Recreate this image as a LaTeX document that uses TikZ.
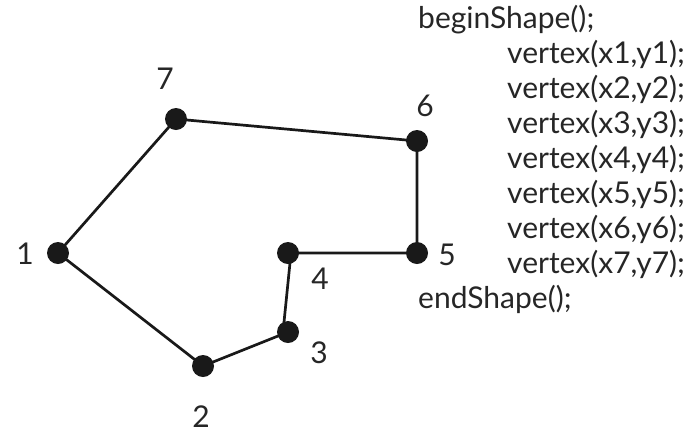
\documentclass[tikz,border=0pt]{standalone}
\usepackage{fontspec}
\setmainfont{Lato}
\usetikzlibrary{calc}
\begin{document}
\begin{tikzpicture}[x=1pt,y=-1pt,
  dot/.style={circle,fill=black!90,inner sep=0pt,minimum size=22pt},
  edge/.style={line width=2.7pt,draw=black!90},
  num/.style={anchor=base,inner sep=0pt,font=\fontsize{30}{35}\selectfont,text=black!85},
  code/.style={anchor=base west,inner sep=0pt,font=\fontsize{30}{35}\selectfont,text=black!85}]
\useasboundingbox (0,0) rectangle (698,432);
\node[dot] (v1) at (58,253) {};
\node[dot] (v2) at (203,366) {};
\node[dot] (v3) at (288,332) {};
\node[dot] (v4) at (288,253) {};
\node[dot] (v5) at (417,253) {};
\node[dot] (v6) at (417,141) {};
\node[dot] (v7) at (176,119) {};
\draw[edge] (v1.center) -- (v2.center) -- (v3.center);
\draw[edge] ($(v3.center)+(-5,0)$) -- ($(v4.center)+(3,0)$);
\draw[edge] (v4.center) -- (v5.center) -- (v6.center) -- (v7.center) -- (v1.center);
\node[num] (l1) at (25,264) {1};
\node[num] (l2) at (201,427) {2};
\node[num] (l3) at (319,363) {3};
\node[num] (l4) at (320,289) {4};
\node[num] (l5) at (447,265) {5};
\node[num] (l6) at (425,116) {6};
\node[num] (l7) at (165,89) {7};
\node[code] (c0) at (418,28) {beginShape();};
\node[code] (c1) at (507,63) {vertex(x1,y1);};
\node[code] (c2) at (507,98) {vertex(x2,y2);};
\node[code] (c3) at (507,133) {vertex(x3,y3);};
\node[code] (c4) at (507,168) {vertex(x4,y4);};
\node[code] (c5) at (507,203) {vertex(x5,y5);};
\node[code] (c6) at (507,238) {vertex(x6,y6);};
\node[code] (c7) at (507,273) {vertex(x7,y7);};
\node[code] (c8) at (418,308) {endShape();};
\end{tikzpicture}
\end{document}
